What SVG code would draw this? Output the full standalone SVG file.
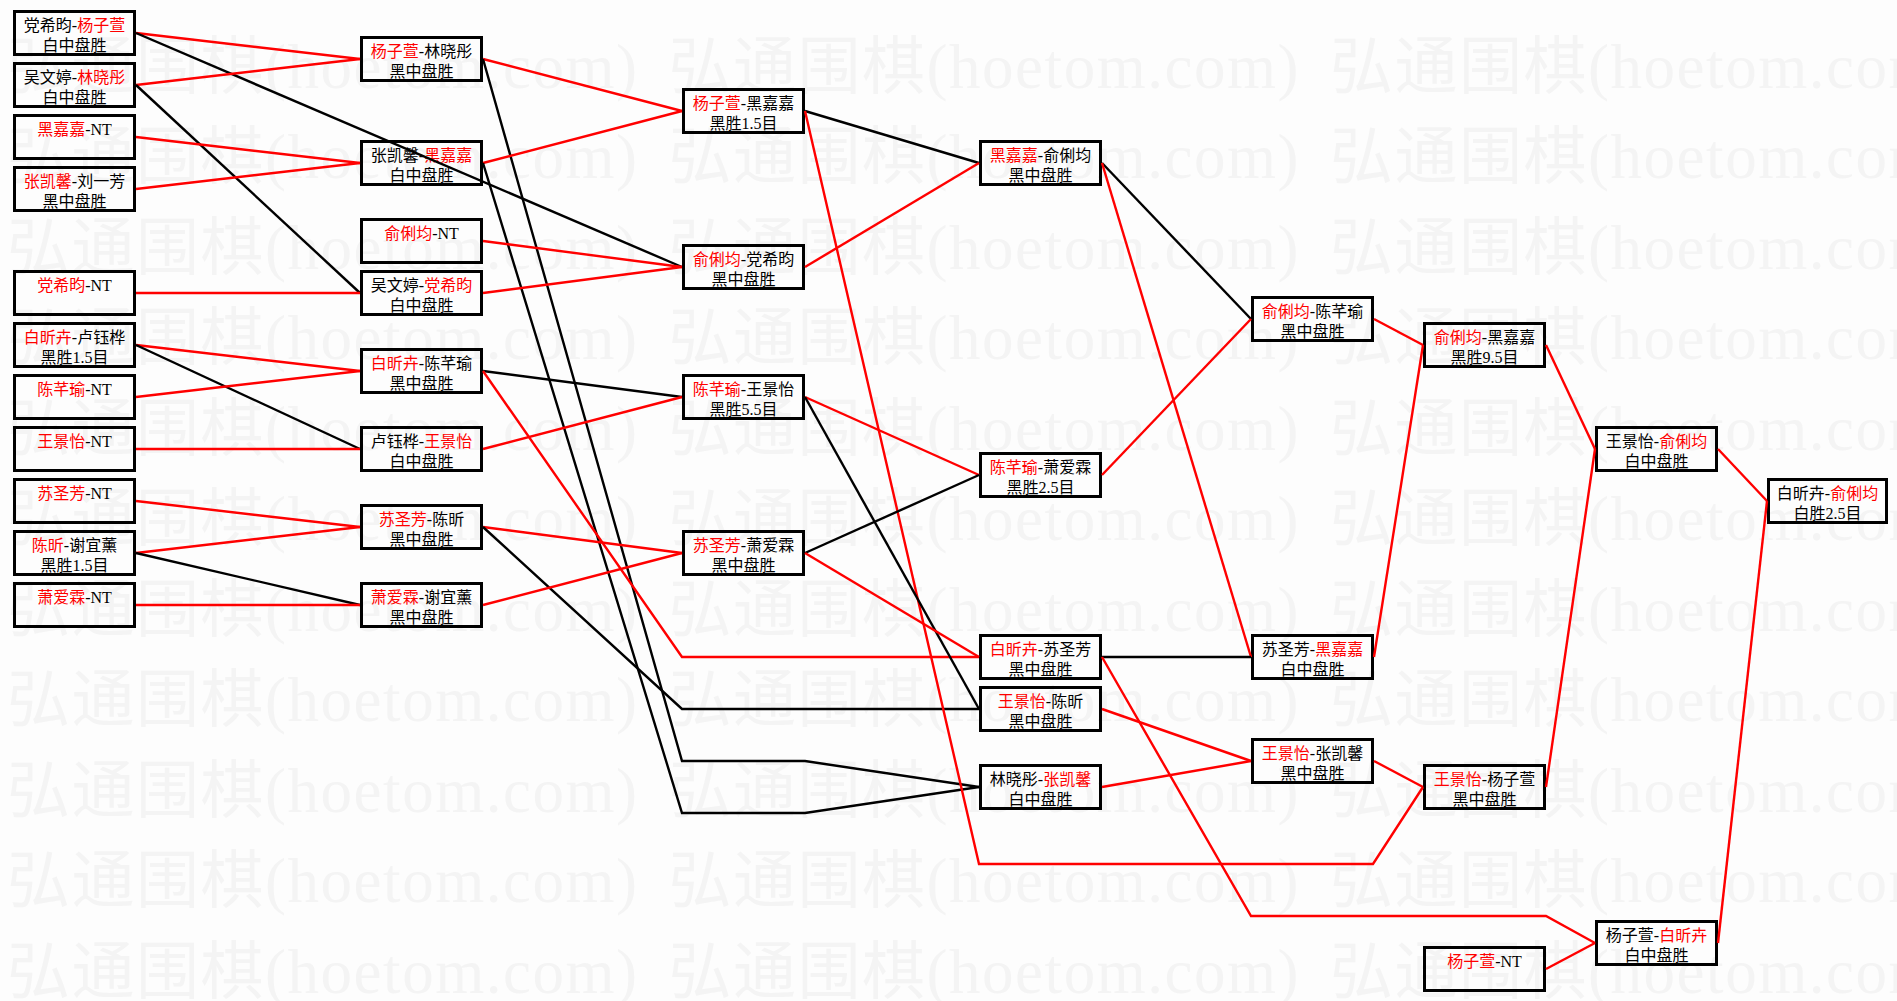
<svg xmlns="http://www.w3.org/2000/svg" width="1897" height="1001" viewBox="0 0 1897 1001">
<style>
.bx{fill:none;stroke:#000;stroke-width:3}
.t{font-family:"Liberation Serif","Noto Sans CJK SC",serif;font-size:16px;fill:#000;text-anchor:middle}
.r{fill:#f00}
.ln{fill:none;stroke-width:2.4;stroke-linejoin:miter}
.k{stroke:#000}
.rd{stroke:#f00}
.wm{font-family:"Liberation Serif","Noto Sans CJK SC",serif;font-size:63px;fill:#f4f4f4}
</style>
<rect x="0" y="0" width="1897" height="1001" fill="#fdfdfd"/>
<g id="watermark">
<text class="wm" x="7" y="87.5" textLength="630" lengthAdjust="spacing">弘通围棋(hoetom.com)</text><text class="wm" x="668.5" y="87.5" textLength="630" lengthAdjust="spacing">弘通围棋(hoetom.com)</text><text class="wm" x="1330" y="87.5" textLength="630" lengthAdjust="spacing">弘通围棋(hoetom.com)</text>
<text class="wm" x="7" y="178" textLength="630" lengthAdjust="spacing">弘通围棋(hoetom.com)</text><text class="wm" x="668.5" y="178" textLength="630" lengthAdjust="spacing">弘通围棋(hoetom.com)</text><text class="wm" x="1330" y="178" textLength="630" lengthAdjust="spacing">弘通围棋(hoetom.com)</text>
<text class="wm" x="7" y="268.5" textLength="630" lengthAdjust="spacing">弘通围棋(hoetom.com)</text><text class="wm" x="668.5" y="268.5" textLength="630" lengthAdjust="spacing">弘通围棋(hoetom.com)</text><text class="wm" x="1330" y="268.5" textLength="630" lengthAdjust="spacing">弘通围棋(hoetom.com)</text>
<text class="wm" x="7" y="359" textLength="630" lengthAdjust="spacing">弘通围棋(hoetom.com)</text><text class="wm" x="668.5" y="359" textLength="630" lengthAdjust="spacing">弘通围棋(hoetom.com)</text><text class="wm" x="1330" y="359" textLength="630" lengthAdjust="spacing">弘通围棋(hoetom.com)</text>
<text class="wm" x="7" y="449.5" textLength="630" lengthAdjust="spacing">弘通围棋(hoetom.com)</text><text class="wm" x="668.5" y="449.5" textLength="630" lengthAdjust="spacing">弘通围棋(hoetom.com)</text><text class="wm" x="1330" y="449.5" textLength="630" lengthAdjust="spacing">弘通围棋(hoetom.com)</text>
<text class="wm" x="7" y="540" textLength="630" lengthAdjust="spacing">弘通围棋(hoetom.com)</text><text class="wm" x="668.5" y="540" textLength="630" lengthAdjust="spacing">弘通围棋(hoetom.com)</text><text class="wm" x="1330" y="540" textLength="630" lengthAdjust="spacing">弘通围棋(hoetom.com)</text>
<text class="wm" x="7" y="630.5" textLength="630" lengthAdjust="spacing">弘通围棋(hoetom.com)</text><text class="wm" x="668.5" y="630.5" textLength="630" lengthAdjust="spacing">弘通围棋(hoetom.com)</text><text class="wm" x="1330" y="630.5" textLength="630" lengthAdjust="spacing">弘通围棋(hoetom.com)</text>
<text class="wm" x="7" y="721" textLength="630" lengthAdjust="spacing">弘通围棋(hoetom.com)</text><text class="wm" x="668.5" y="721" textLength="630" lengthAdjust="spacing">弘通围棋(hoetom.com)</text><text class="wm" x="1330" y="721" textLength="630" lengthAdjust="spacing">弘通围棋(hoetom.com)</text>
<text class="wm" x="7" y="811.5" textLength="630" lengthAdjust="spacing">弘通围棋(hoetom.com)</text><text class="wm" x="668.5" y="811.5" textLength="630" lengthAdjust="spacing">弘通围棋(hoetom.com)</text><text class="wm" x="1330" y="811.5" textLength="630" lengthAdjust="spacing">弘通围棋(hoetom.com)</text>
<text class="wm" x="7" y="902" textLength="630" lengthAdjust="spacing">弘通围棋(hoetom.com)</text><text class="wm" x="668.5" y="902" textLength="630" lengthAdjust="spacing">弘通围棋(hoetom.com)</text><text class="wm" x="1330" y="902" textLength="630" lengthAdjust="spacing">弘通围棋(hoetom.com)</text>
<text class="wm" x="7" y="992.5" textLength="630" lengthAdjust="spacing">弘通围棋(hoetom.com)</text><text class="wm" x="668.5" y="992.5" textLength="630" lengthAdjust="spacing">弘通围棋(hoetom.com)</text><text class="wm" x="1330" y="992.5" textLength="630" lengthAdjust="spacing">弘通围棋(hoetom.com)</text>
</g>

<!-- column 1 -->
<g id="n1-1"><rect class="bx" x="14.5" y="11.5" width="120" height="43"/><text class="t" x="74.5" y="31">党希昀-<tspan class="r">杨子萱</tspan></text><text class="t" x="74.5" y="51">白中盘胜</text></g>
<g id="n1-2"><rect class="bx" x="14.5" y="63.5" width="120" height="43"/><text class="t" x="74.5" y="83">吴文婷-<tspan class="r">林晓彤</tspan></text><text class="t" x="74.5" y="103">白中盘胜</text></g>
<g id="n1-3"><rect class="bx" x="14.5" y="115.5" width="120" height="43"/><text class="t" x="74.5" y="135"><tspan class="r">黑嘉嘉</tspan>-NT</text></g>
<g id="n1-4"><rect class="bx" x="14.5" y="167.5" width="120" height="43"/><text class="t" x="74.5" y="187"><tspan class="r">张凯馨</tspan>-刘一芳</text><text class="t" x="74.5" y="207">黑中盘胜</text></g>
<g id="n1-5"><rect class="bx" x="14.5" y="271.5" width="120" height="43"/><text class="t" x="74.5" y="291"><tspan class="r">党希昀</tspan>-NT</text></g>
<g id="n1-6"><rect class="bx" x="14.5" y="323.5" width="120" height="43"/><text class="t" x="74.5" y="343"><tspan class="r">白昕卉</tspan>-卢钰桦</text><text class="t" x="74.5" y="363">黑胜1.5目</text></g>
<g id="n1-7"><rect class="bx" x="14.5" y="375.5" width="120" height="43"/><text class="t" x="74.5" y="395"><tspan class="r">陈芊瑜</tspan>-NT</text></g>
<g id="n1-8"><rect class="bx" x="14.5" y="427.5" width="120" height="43"/><text class="t" x="74.5" y="447"><tspan class="r">王景怡</tspan>-NT</text></g>
<g id="n1-9"><rect class="bx" x="14.5" y="479.5" width="120" height="43"/><text class="t" x="74.5" y="499"><tspan class="r">苏圣芳</tspan>-NT</text></g>
<g id="n1-10"><rect class="bx" x="14.5" y="531.5" width="120" height="43"/><text class="t" x="74.5" y="551"><tspan class="r">陈昕</tspan>-谢宜薰</text><text class="t" x="74.5" y="571">黑胜1.5目</text></g>
<g id="n1-11"><rect class="bx" x="14.5" y="583.5" width="120" height="43"/><text class="t" x="74.5" y="603"><tspan class="r">萧爱霖</tspan>-NT</text></g>

<!-- column 2 -->
<g id="n2-1"><rect class="bx" x="361.5" y="37.5" width="120" height="43"/><text class="t" x="421.5" y="57"><tspan class="r">杨子萱</tspan>-林晓彤</text><text class="t" x="421.5" y="77">黑中盘胜</text></g>
<g id="n2-2"><rect class="bx" x="361.5" y="141.5" width="120" height="43"/><text class="t" x="421.5" y="161">张凯馨-<tspan class="r">黑嘉嘉</tspan></text><text class="t" x="421.5" y="181">白中盘胜</text></g>
<g id="n2-3"><rect class="bx" x="361.5" y="219.5" width="120" height="43"/><text class="t" x="421.5" y="239"><tspan class="r">俞俐均</tspan>-NT</text></g>
<g id="n2-4"><rect class="bx" x="361.5" y="271.5" width="120" height="43"/><text class="t" x="421.5" y="291">吴文婷-<tspan class="r">党希昀</tspan></text><text class="t" x="421.5" y="311">白中盘胜</text></g>
<g id="n2-5"><rect class="bx" x="361.5" y="349.5" width="120" height="43"/><text class="t" x="421.5" y="369"><tspan class="r">白昕卉</tspan>-陈芊瑜</text><text class="t" x="421.5" y="389">黑中盘胜</text></g>
<g id="n2-6"><rect class="bx" x="361.5" y="427.5" width="120" height="43"/><text class="t" x="421.5" y="447">卢钰桦-<tspan class="r">王景怡</tspan></text><text class="t" x="421.5" y="467">白中盘胜</text></g>
<g id="n2-7"><rect class="bx" x="361.5" y="505.5" width="120" height="43"/><text class="t" x="421.5" y="525"><tspan class="r">苏圣芳</tspan>-陈昕</text><text class="t" x="421.5" y="545">黑中盘胜</text></g>
<g id="n2-8"><rect class="bx" x="361.5" y="583.5" width="120" height="43"/><text class="t" x="421.5" y="603"><tspan class="r">萧爱霖</tspan>-谢宜薰</text><text class="t" x="421.5" y="623">黑中盘胜</text></g>

<!-- column 3 -->
<g id="n3-1"><rect class="bx" x="683.5" y="89.5" width="120" height="43"/><text class="t" x="743.5" y="109"><tspan class="r">杨子萱</tspan>-黑嘉嘉</text><text class="t" x="743.5" y="129">黑胜1.5目</text></g>
<g id="n3-2"><rect class="bx" x="683.5" y="245.5" width="120" height="43"/><text class="t" x="743.5" y="265"><tspan class="r">俞俐均</tspan>-党希昀</text><text class="t" x="743.5" y="285">黑中盘胜</text></g>
<g id="n3-3"><rect class="bx" x="683.5" y="375.5" width="120" height="43"/><text class="t" x="743.5" y="395"><tspan class="r">陈芊瑜</tspan>-王景怡</text><text class="t" x="743.5" y="415">黑胜5.5目</text></g>
<g id="n3-4"><rect class="bx" x="683.5" y="531.5" width="120" height="43"/><text class="t" x="743.5" y="551"><tspan class="r">苏圣芳</tspan>-萧爱霖</text><text class="t" x="743.5" y="571">黑中盘胜</text></g>

<!-- column 4 -->
<g id="n4-1"><rect class="bx" x="980.5" y="141.5" width="120" height="43"/><text class="t" x="1040.5" y="161"><tspan class="r">黑嘉嘉</tspan>-俞俐均</text><text class="t" x="1040.5" y="181">黑中盘胜</text></g>
<g id="n4-2"><rect class="bx" x="980.5" y="453.5" width="120" height="43"/><text class="t" x="1040.5" y="473"><tspan class="r">陈芊瑜</tspan>-萧爱霖</text><text class="t" x="1040.5" y="493">黑胜2.5目</text></g>
<g id="n4-3"><rect class="bx" x="980.5" y="635.5" width="120" height="43"/><text class="t" x="1040.5" y="655"><tspan class="r">白昕卉</tspan>-苏圣芳</text><text class="t" x="1040.5" y="675">黑中盘胜</text></g>
<g id="n4-4"><rect class="bx" x="980.5" y="687.5" width="120" height="43"/><text class="t" x="1040.5" y="707"><tspan class="r">王景怡</tspan>-陈昕</text><text class="t" x="1040.5" y="727">黑中盘胜</text></g>
<g id="n4-5"><rect class="bx" x="980.5" y="765.5" width="120" height="43"/><text class="t" x="1040.5" y="785">林晓彤-<tspan class="r">张凯馨</tspan></text><text class="t" x="1040.5" y="805">白中盘胜</text></g>

<!-- column 5 -->
<g id="n5-1"><rect class="bx" x="1252.5" y="297.5" width="120" height="43"/><text class="t" x="1312.5" y="317"><tspan class="r">俞俐均</tspan>-陈芊瑜</text><text class="t" x="1312.5" y="337">黑中盘胜</text></g>
<g id="n5-2"><rect class="bx" x="1252.5" y="635.5" width="120" height="43"/><text class="t" x="1312.5" y="655">苏圣芳-<tspan class="r">黑嘉嘉</tspan></text><text class="t" x="1312.5" y="675">白中盘胜</text></g>
<g id="n5-3"><rect class="bx" x="1252.5" y="739.5" width="120" height="43"/><text class="t" x="1312.5" y="759"><tspan class="r">王景怡</tspan>-张凯馨</text><text class="t" x="1312.5" y="779">黑中盘胜</text></g>

<!-- column 6 -->
<g id="n6-1"><rect class="bx" x="1424.5" y="323.5" width="120" height="43"/><text class="t" x="1484.5" y="343"><tspan class="r">俞俐均</tspan>-黑嘉嘉</text><text class="t" x="1484.5" y="363">黑胜9.5目</text></g>
<g id="n6-2"><rect class="bx" x="1424.5" y="765.5" width="120" height="43"/><text class="t" x="1484.5" y="785"><tspan class="r">王景怡</tspan>-杨子萱</text><text class="t" x="1484.5" y="805">黑中盘胜</text></g>
<g id="n6-3"><rect class="bx" x="1424.5" y="947.5" width="120" height="43"/><text class="t" x="1484.5" y="967"><tspan class="r">杨子萱</tspan>-NT</text></g>

<!-- column 7 -->
<g id="n7-1"><rect class="bx" x="1596.5" y="427.5" width="120" height="43"/><text class="t" x="1656.5" y="447">王景怡-<tspan class="r">俞俐均</tspan></text><text class="t" x="1656.5" y="467">白中盘胜</text></g>
<g id="n7-2"><rect class="bx" x="1596.5" y="921.5" width="120" height="43"/><text class="t" x="1656.5" y="941">杨子萱-<tspan class="r">白昕卉</tspan></text><text class="t" x="1656.5" y="961">白中盘胜</text></g>

<!-- column 8 -->
<g id="n8-1"><rect class="bx" x="1768.5" y="479.5" width="118" height="43"/><text class="t" x="1827.5" y="499">白昕卉-<tspan class="r">俞俐均</tspan></text><text class="t" x="1827.5" y="519">白胜2.5目</text></g>

<g id="connectors">
<polyline class="ln rd" points="136,33 360,59"/>
<polyline class="ln k" points="136,33 682,267"/>
<polyline class="ln rd" points="136,85 360,59"/>
<polyline class="ln k" points="136,85 360,293"/>
<polyline class="ln rd" points="136,137 360,163"/>
<polyline class="ln rd" points="136,189 360,163"/>
<polyline class="ln rd" points="136,293 360,293"/>
<polyline class="ln rd" points="136,345 360,371"/>
<polyline class="ln k" points="136,345 360,449"/>
<polyline class="ln rd" points="136,397 360,371"/>
<polyline class="ln rd" points="136,449 360,449"/>
<polyline class="ln rd" points="136,501 360,527"/>
<polyline class="ln rd" points="136,553 360,527"/>
<polyline class="ln k" points="136,553 360,605"/>
<polyline class="ln rd" points="136,605 360,605"/>

<polyline class="ln rd" points="483,59 682,111"/>
<polyline class="ln k" points="483,59 682,761 805,761 979,787"/>
<polyline class="ln rd" points="483,163 682,111"/>
<polyline class="ln k" points="483,163 682,813 805,813 979,787"/>
<polyline class="ln rd" points="483,241 682,267"/>
<polyline class="ln rd" points="483,293 682,267"/>
<polyline class="ln k" points="483,371 682,397"/>
<polyline class="ln rd" points="483,371 682,657 979,657"/>
<polyline class="ln rd" points="483,449 682,397"/>
<polyline class="ln rd" points="483,527 682,553"/>
<polyline class="ln k" points="483,527 682,709 979,709"/>
<polyline class="ln rd" points="483,605 682,553"/>

<polyline class="ln k" points="805,111 979,163"/>
<polyline class="ln rd" points="805,111 979,864 1373,864 1423,787"/>
<polyline class="ln rd" points="805,267 979,163"/>
<polyline class="ln rd" points="805,397 979,475"/>
<polyline class="ln k" points="805,397 979,709"/>
<polyline class="ln k" points="805,553 979,475"/>
<polyline class="ln rd" points="805,553 979,657"/>

<polyline class="ln k" points="1102,163 1251,319"/>
<polyline class="ln rd" points="1102,163 1251,657"/>
<polyline class="ln rd" points="1102,475 1251,319"/>
<polyline class="ln k" points="1102,657 1251,657"/>
<polyline class="ln rd" points="1102,657 1251,916 1546,916 1595,943"/>
<polyline class="ln rd" points="1102,709 1251,761"/>
<polyline class="ln rd" points="1102,787 1251,761"/>

<polyline class="ln rd" points="1374,319 1423,345"/>
<polyline class="ln rd" points="1374,657 1423,345"/>
<polyline class="ln rd" points="1374,761 1423,787"/>

<polyline class="ln rd" points="1546,345 1595,449"/>
<polyline class="ln rd" points="1546,787 1595,449"/>
<polyline class="ln rd" points="1546,969 1595,943"/>

<polyline class="ln rd" points="1718,449 1767,501"/>
<polyline class="ln rd" points="1718,943 1767,501"/>
</g>
</svg>
